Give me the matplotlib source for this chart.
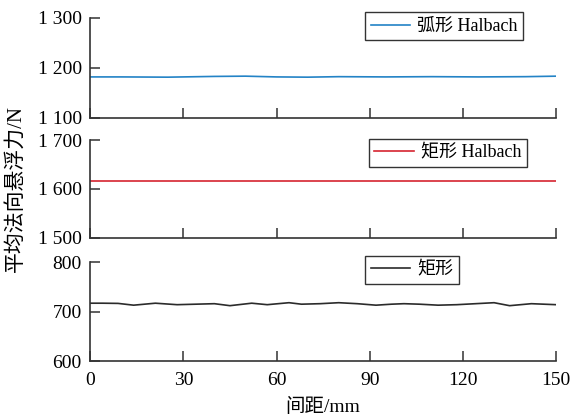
import numpy as np
import matplotlib.pyplot as plt
from matplotlib.ticker import FuncFormatter

plt.rcParams['font.family'] = ['Liberation Serif', 'Noto Sans CJK SC']
plt.rcParams['font.size'] = 14

# 弧形 Halbach
x_arc = [0, 10, 25, 40, 50, 60, 70, 80, 95, 110, 125, 140, 150]
f_arc = [1182, 1182, 1181.5, 1183, 1183.5, 1182, 1181.5, 1182.5, 1182, 1182.5, 1182, 1182.5, 1183.5]

# 矩形 Halbach
x_rect_h = [0, 150]
f_rect_h = [1616, 1616]

# 矩形
x_rect = [0, 4, 9, 14, 21, 28, 34, 40, 45, 52, 57, 64, 68, 74, 80, 86, 92, 97,
          101, 106, 112, 118, 124, 130, 135, 142, 150]
f_rect = [717, 717, 716.6, 713, 717, 714, 715, 716, 712, 717, 714, 718, 715, 716,
          718, 716, 713, 715, 716, 715, 713, 714, 716, 718, 712, 716, 714]

x_ticks = [0, 30, 60, 90, 120, 150]


def fmt(v, pos):
    v = int(round(v))
    if v >= 1000:
        return f"{v // 1000} {v % 1000:03d}"
    return str(v)


fig = plt.figure(figsize=(5.74, 4.18), dpi=100)
left, width = 0.157, 0.812
boxes = [(0.718, 0.239), (0.431, 0.234), (0.136, 0.237)]
leg_pos = [(0.59, 1.055), (0.598, 1.012), (0.59, 1.065)]
panels = [
    (x_arc, f_arc, '#2383c6', '弧形 Halbach', (1100, 1300), [1100, 1200, 1300]),
    (x_rect_h, f_rect_h, '#d62430', '矩形 Halbach', (1500, 1700), [1500, 1600, 1700]),
    (x_rect, f_rect, '#2b2b2b', '矩形', (600, 800), [600, 700, 800]),
]

axes = []
for (b, h), lp, (xs, ys, c, lab, yl, yt) in zip(boxes, leg_pos, panels):
    ax = fig.add_axes([left, b, width, h])
    ax.plot(xs, ys, color=c, lw=1.2, label=lab)
    ax.set_xlim(0, 150)
    ax.set_ylim(*yl)
    ax.set_yticks(yt)
    ax.set_xticks(x_ticks)
    ax.yaxis.set_major_formatter(FuncFormatter(fmt))
    for s in ['top', 'right']:
        ax.spines[s].set_visible(False)
    for s in ['left', 'bottom']:
        ax.spines[s].set_color('#333333')
        ax.spines[s].set_linewidth(1.2)
    ax.tick_params(direction='in', length=7, width=1.1, color='#333333',
                   labelsize=14)
    ax.tick_params(axis='y', pad=6)
    ax.tick_params(axis='x', pad=8)
    ax.legend(loc='upper left', bbox_to_anchor=lp, frameon=True,
              fancybox=False, edgecolor='black', fontsize=13, handlelength=2.2,
              borderpad=0.3, handletextpad=0.4, borderaxespad=0)
    axes.append(ax)

for ax in axes[:2]:
    ax.tick_params(labelbottom=False)

axes[2].set_xlabel('间距/mm', fontsize=14, labelpad=6)
fig.text(0.028, 0.55, '平均法向悬浮力/N', rotation=90, ha='center', va='center',
         fontsize=15)

fig.savefig('out.png', dpi=100)
